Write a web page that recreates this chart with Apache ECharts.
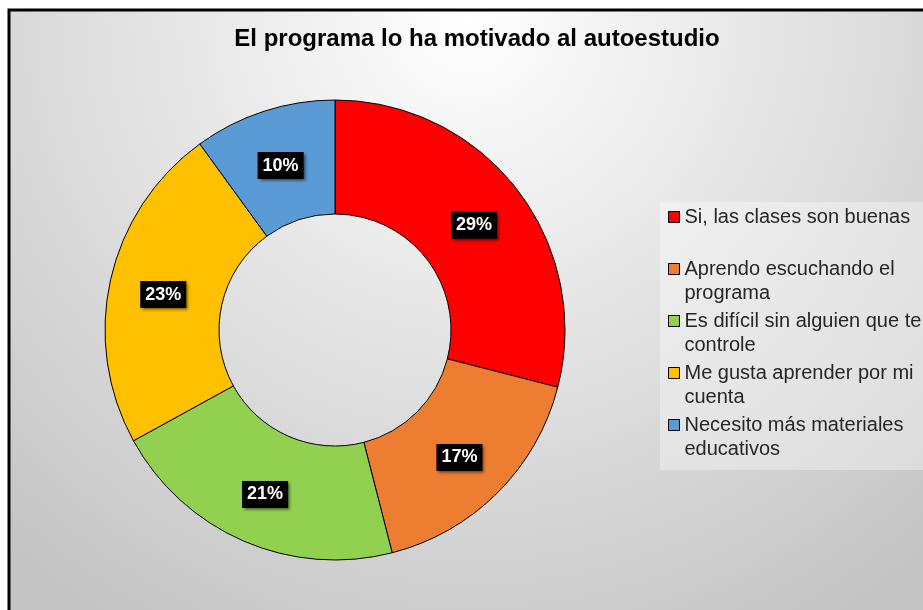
<!DOCTYPE html>
<html>
<head>
<meta charset="utf-8">
<script src="https://cdn.jsdelivr.net/npm/echarts@6/dist/echarts.min.js"></script>
<style>
  html, body { margin: 0; padding: 0; background: #fff; overflow: hidden; }
  #chart { width: 923px; height: 610px; }
</style>
</head>
<body>
<div id="chart"></div>
<script>
const titleText = 'El programa lo ha motivado al autoestudio'
const categories = [
  'Si, las clases son buenas',
  'Aprendo escuchando el\nprograma',
  'Es difícil sin alguien que te\ncontrole',
  'Me gusta aprender por mi\ncuenta',
  'Necesito más materiales\neducativos',
]
const percents = [29, 17, 21, 23, 10]
const colors = ['#ff0000', '#ed7d31', '#92d050', '#ffc000', '#5b9bd5']

const font = "'Liberation Sans', Arial, sans-serif"
const chart = echarts.init(document.getElementById('chart'))

chart.setOption({
  backgroundColor: '#fff',
  color: colors,
  title: {
    text: titleText,
    left: 472,
    textAlign: 'center',
    top: 22,
    textStyle: { fontFamily: font, fontSize: 24, fontWeight: 'bold', color: '#000' },
  },
  legend: {
    orient: 'vertical',
    left: 668,
    top: 181,
    padding: 0,
    itemGap: -20,
    itemWidth: 11,
    itemHeight: 11,
    icon: 'rect',
    itemStyle: { borderColor: '#000', borderWidth: 1 },
    // every entry is three lines tall, the icon sits on the first real line
    formatter: (name) => (name.indexOf('\n') >= 0 ? ' \n' + name : ' \n' + name + '\n '),
    textStyle: { fontFamily: font, fontSize: 20, lineHeight: 24, color: '#262626' },
    data: categories,
  },
  graphic: [
    {
      type: 'rect',
      z: -10,
      shape: { x: 9, y: 10, width: 930, height: 620 },
      style: {
        fill: {
          type: 'radial', x: 470, y: 20, r: 700, global: true,
          colorStops: [
            { offset: 0, color: '#ffffff' },
            { offset: 1, color: '#c4c4c4' },
          ],
        },
        stroke: '#000',
        lineWidth: 3,
      },
    },
    {
      type: 'rect',
      z: -9,
      shape: { x: 660, y: 202, width: 270, height: 268 },
      style: { fill: 'rgba(255,255,255,0.35)' },
    },
  ],
  series: [
    {
      type: 'pie',
      center: [335, 330],
      radius: [116, 230],
      startAngle: 90,
      clockwise: true,
      avoidLabelOverlap: false,
      itemStyle: { borderColor: '#000', borderWidth: 1 },
      label: {
        show: true,
        position: 'inside',
        formatter: '{c}%',
        offset: [0, 3],
        fontFamily: font,
        fontSize: 18,
        fontWeight: 'bold',
        color: '#fff',
        backgroundColor: '#000',
        padding: [5, 5, 4, 5],
        shadowColor: 'rgba(0,0,0,0.55)',
        shadowBlur: 3,
        shadowOffsetX: 2,
        shadowOffsetY: 2,
      },
      labelLine: { show: false },
      emphasis: { disabled: true },
      data: categories.map((name, i) => ({ name: name, value: percents[i] })),
    },
  ],
})
</script>
</body>
</html>
